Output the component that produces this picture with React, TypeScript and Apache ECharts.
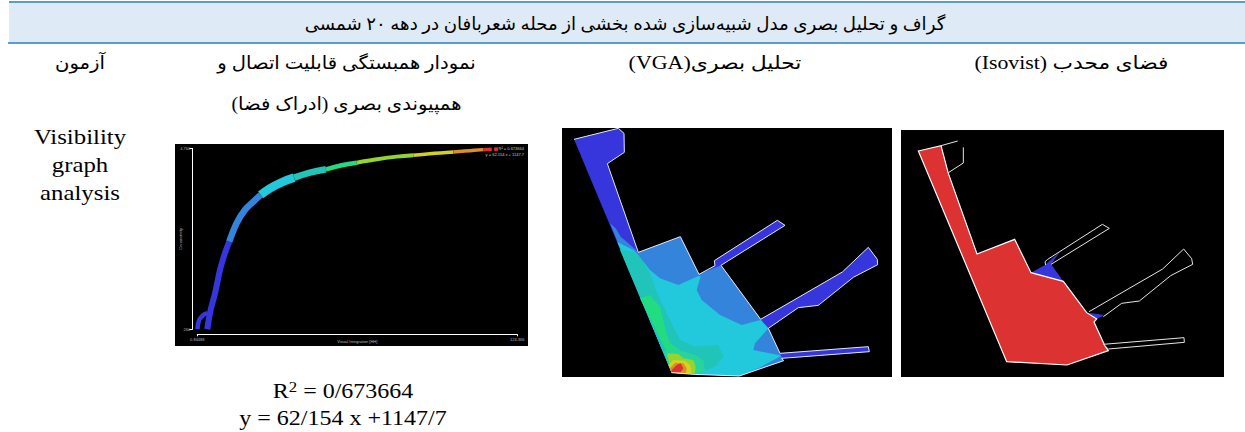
import React, { useEffect, useRef } from "react";
import * as echarts from "echarts";

const rtl = (s: string) => "\u202B" + s + "\u202C";
const titleText = "گراف و تحلیل بصری مدل شبیه‌سازی شده بخشی از محله شعربافان در دهه ۲۰ شمسی";
const headTest = "آزمون";
const headPlot1 = "نمودار همبستگی قابلیت اتصال و";
const headPlot2 = "همپیوندی بصری (ادراک فضا)";
const headVga = "تحلیل بصری(VGA)";
const headIso = "فضای محدب (Isovist)";
const rowLabel = ["Visibility", "graph", "analysis"];

// scatter bands: [integration, connectivity]
const forkBlue = [[0.85, 260], [1.6, 492], [3.2, 616], [4.7, 658]];
const darkBlue = [[4.7, 260], [6.0, 741], [7.7, 1155], [9.6, 1735], [11.5, 2149], [13.2, 2439]];
const midBlue = [[13.2, 2439], [16, 2895], [19.2, 3227], [22.5, 3434], [25.3, 3600]];
const cyanBand = [[25.3, 3600], [28.9, 3765], [33.4, 3915], [38.2, 4030]];
const tealBand = [[38.2, 4030], [44.3, 4155], [50.5, 4238]];
const greenBand = [[50.5, 4238], [56.6, 4337], [62.4, 4403]];
const limeBand = [[62.4, 4403], [70.1, 4486], [77.8, 4553], [84.2, 4586]];
const yellowBand = [[84.2, 4586], [90.6, 4627], [99.7, 4669]];
const orangeBand = [[99.7, 4669], [106.1, 4702], [111.2, 4727]];
const redBand = [[111.2, 4727], [114.5, 4735]];
const redEnd = [[115.4, 4735], [116.9, 4743]];
const xTicks = [0.84488, 124.366];
const yTicks = [260, 4760];

const DARK = "#3636dc", MID = "#3484db", CYAN = "#22c9dc", TEAL = "#20c4b8", GREEN = "#22dc82",
  HALO = "#28d49a", LIME = "#90d62e", YELLOW = "#d8d020", ORANGE = "#dd8c2e", RED = "#dc3232";

// VGA map regions
const vgaOutline = [[57, 58], [190, 25], [207, 40], [208, 97], [157, 131], [250, 397], [376, 350], [432, 463], [480, 437], [478, 422], [667, 301], [690, 316], [498, 436], [617, 598], [862, 456], [940, 382], [967, 418], [968, 434], [895, 472], [790, 556], [730, 563], [640, 625], [675, 700], [940, 680], [943, 695], [680, 715], [686, 722], [553, 768], [415, 763], [350, 758]];
const vgaMid = [[165, 310], [182, 325], [197, 350], [220, 370], [250, 397], [376, 350], [432, 463], [498, 436], [617, 598], [640, 625], [675, 700], [686, 722], [553, 768], [415, 763], [350, 758]];
const vgaCyan = [[187, 366], [235, 390], [245, 400], [285, 450], [315, 475], [370, 495], [425, 470], [437, 468], [425, 510], [440, 540], [495, 585], [560, 615], [617, 600], [640, 625], [600, 670], [595, 690], [670, 705], [678, 708], [610, 745], [553, 768], [415, 763], [350, 758]];
const vgaTeal = [[195, 390], [235, 395], [250, 405], [285, 460], [305, 515], [335, 580], [375, 660], [420, 680], [490, 675], [505, 710], [480, 740], [420, 762], [350, 758]];
const vgaGreen = [[255, 535], [285, 525], [315, 560], [335, 640], [345, 670], [375, 690], [335, 695]];
const vgaHalo = [[325, 692], [370, 690], [420, 705], [445, 720], [450, 755], [415, 763], [350, 758]];
const vgaLime = [[335, 700], [370, 702], [385, 715], [415, 720], [422, 740], [420, 760], [350, 758]];
const vgaYellow = [[340, 735], [355, 720], [390, 722], [405, 735], [410, 760], [350, 758]];
const vgaOrange = [[345, 745], [360, 728], [385, 730], [395, 745], [393, 758], [350, 758]];
const vgaRed = [[350, 750], [365, 735], [377, 730], [385, 745], [377, 757], [350, 757]];

// isovist map regions
const isoRed = [[70, 93], [138, 77], [160, 160], [246, 402], [359, 358], [408, 458], [505, 484], [575, 578], [605, 597], [597, 606], [630, 678], [640, 692], [516, 735], [335, 725]];
const isoBlueA = [[408, 458], [450, 435], [495, 395], [468, 433], [505, 484]];
const isoBlueB = [[580, 578], [628, 585], [605, 597]];
const isoEdgeA = [[138, 77], [188, 63]];
const isoEdgeB = [[205, 82], [205, 129], [160, 158]];
const isoEdgeC = [[452, 435], [450, 425], [458, 418], [622, 313], [643, 325], [468, 433]];
const isoEdgeD = [[582, 575], [803, 447], [866, 387], [890, 416], [893, 433], [827, 467], [733, 543], [680, 550], [625, 590]];
const isoEdgeE = [[625, 673], [867, 653], [868, 667], [640, 687], [630, 678]];

type Shape = { pts: number[][]; fill?: string; stroke?: string; width?: number };

const vgaShapes: Shape[] = [
  { pts: vgaOutline, fill: DARK },
  { pts: vgaMid, fill: MID },
  { pts: vgaCyan, fill: CYAN },
  { pts: vgaTeal, fill: TEAL },
  { pts: vgaGreen, fill: GREEN },
  { pts: vgaHalo, fill: HALO },
  { pts: vgaLime, fill: LIME },
  { pts: vgaYellow, fill: YELLOW },
  { pts: vgaOrange, fill: ORANGE },
  { pts: vgaRed, fill: RED },
  { pts: vgaOutline, stroke: "#dfe8ff", width: 1 },
];
const isoShapes: Shape[] = [
  { pts: isoBlueA, fill: DARK },
  { pts: isoBlueB, fill: DARK },
  { pts: isoRed, fill: RED, stroke: "#ffffff", width: 1.2 },
  { pts: isoEdgeA, stroke: "#e6e6e6", width: 1 },
  { pts: isoEdgeB, stroke: "#e6e6e6", width: 1 },
  { pts: isoEdgeC, stroke: "#e6e6e6", width: 1 },
  { pts: isoEdgeD, stroke: "#e6e6e6", width: 1 },
  { pts: isoEdgeE, stroke: "#e6e6e6", width: 1 },
];

const shapeSeries = (shapes: Shape[], axis: number) => ({
  type: "custom",
  coordinateSystem: "cartesian2d",
  xAxisIndex: axis,
  yAxisIndex: axis,
  silent: true,
  data: shapes.map((s) => s.pts[0]),
  renderItem: (params: any, api: any) => {
    const s = shapes[params.dataIndex];
    const points = s.pts.map((p) => api.coord(p));
    return {
      type: s.fill ? "polygon" : "polyline",
      shape: { points },
      style: { fill: s.fill || "none", stroke: s.stroke || "none", lineWidth: s.width || 0 },
    };
  },
});

const band = (data: number[][], color: string, width: number) => ({
  type: "line",
  xAxisIndex: 0,
  yAxisIndex: 0,
  data,
  symbol: "none",
  silent: true,
  clip: false,
  smooth: 0.4,
  lineStyle: { color, width, cap: "butt" },
});

const hiddenAxis = (gridIndex: number, min: number, max: number, inverse = false) => ({
  type: "value",
  gridIndex,
  min,
  max,
  inverse,
  show: false,
});

const text = (t: any, x: number, y: number, size: number, scaleX = 1, extra: any = {}) => ({
  type: "text",
  x,
  y,
  scaleX,
  z: 5,
  style: {
    text: t,
    fill: "#000000",
    font: `${size}px "Liberation Serif", "DejaVu Sans", serif`,
    textAlign: "center",
    textVerticalAlign: "middle",
    ...extra,
  },
});

export default function App() {
  const ref = useRef<HTMLDivElement>(null);
  useEffect(() => {
    document.body.style.margin = "0";
    const chart = echarts.init(ref.current!, undefined, { renderer: "svg" });
    const axisLine = { show: true, lineStyle: { color: "#ffffff", width: 1 } };
    const smallLabel = { color: "#b8b8b8", fontSize: 4, fontFamily: "Liberation Sans" };
    chart.setOption({
      animation: false,
      backgroundColor: "#ffffff",
      grid: [
        { left: 197.3, top: 148.3, width: 320, height: 181, containLabel: false },
        { left: 562, top: 128, width: 330, height: 249 },
        { left: 901, top: 130, width: 323, height: 247 },
      ],
      xAxis: [
        {
          type: "value",
          gridIndex: 0,
          min: xTicks[0],
          max: xTicks[1],
          offset: 5,
          position: "bottom",
          name: "Visual Integration [HH]",
          nameLocation: "middle",
          nameGap: 5,
          nameMoveOverlap: false,
          nameTextStyle: smallLabel,
          axisLine,
          axisTick: { show: true, customValues: xTicks, length: 2, lineStyle: { color: "#ffffff" } },
          axisLabel: { show: true, customValues: xTicks, ...smallLabel, margin: 3, formatter: (v: number) => String(v) },
          splitLine: { show: false },
        },
        hiddenAxis(1, 21, 1011),
        hiddenAxis(2, 18, 987),
      ],
      yAxis: [
        {
          type: "value",
          gridIndex: 0,
          min: yTicks[0],
          max: yTicks[1],
          offset: 5,
          position: "left",
          name: "Connectivity",
          nameLocation: "middle",
          nameGap: 10,
          nameMoveOverlap: false,
          nameRotate: 90,
          nameTextStyle: smallLabel,
          axisLine,
          axisTick: { show: true, customValues: yTicks, length: 3, lineStyle: { color: "#ffffff" } },
          axisLabel: { show: true, customValues: yTicks, ...smallLabel, margin: 2 },
          splitLine: { show: false },
        },
        hiddenAxis(1, 24, 771, true),
        hiddenAxis(2, 30, 771, true),
      ],
      series: [
        band(forkBlue, DARK, 4.5),
        band(darkBlue, DARK, 6),
        band(midBlue, MID, 6.5),
        band(cyanBand, CYAN, 8.5),
        band(tealBand, TEAL, 6.5),
        band(greenBand, GREEN, 4.5),
        band(limeBand, LIME, 4),
        band(yellowBand, YELLOW, 3.5),
        band(orangeBand, ORANGE, 3.5),
        band(redBand, RED, 3.5),
        band(redEnd, RED, 3.5),
        shapeSeries(vgaShapes, 1),
        shapeSeries(isoShapes, 2),
      ],
      graphic: [
        { type: "rect", z: -1, shape: { x: 9, y: 2, width: 1236, height: 41 }, style: { fill: "#deeaf6" } },
        { type: "rect", z: -1, shape: { x: 9, y: 1, width: 1236, height: 2 }, style: { fill: "#5b9bd5" } },
        { type: "rect", z: -1, shape: { x: 8, y: 42, width: 1237, height: 2 }, style: { fill: "#5b9bd5" } },
        { type: "rect", z: -1, shape: { x: 175, y: 144, width: 353, height: 202 }, style: { fill: "#000000" } },
        { type: "rect", z: -1, shape: { x: 562, y: 128, width: 330, height: 249 }, style: { fill: "#000000" } },
        { type: "rect", z: -1, shape: { x: 901, y: 130, width: 323, height: 247 }, style: { fill: "#000000" } },
        text(rtl(titleText), 625, 24, 18, 1.01),
        text(rtl(headTest), 80, 63, 18, 1.09),
        text(rtl(headPlot1), 346.5, 63, 18, 1.09),
        text(rtl(headPlot2), 346.5, 104, 18, 1.09),
        text(rtl(headVga), 715, 63, 18, 1.22),
        text(rtl(headIso), 1071.5, 63, 18, 1.21),
        text(rowLabel[0], 80, 137, 20, 1.24),
        text(rowLabel[1], 80, 165, 20, 1.24),
        text(rowLabel[2], 80, 193, 20, 1.24),
        {
          type: "text", x: 343, y: 391, z: 5, scaleX: 1.2,
          style: {
            text: "{b|R}{s|2}{b| = 0/673664}",
            textAlign: "center",
            textVerticalAlign: "middle",
            rich: {
              b: { font: '20px "Liberation Serif", serif', fill: "#000" },
              s: { font: '14px "Liberation Serif", serif', fill: "#000", verticalAlign: "top", lineHeight: 22 },
            },
          },
        },
        text("y = 62/154 x +1147/7", 343, 418.5, 20, 1.2),
        text("R² = 0.673664", 524, 148, 4, 1, { fill: "#c8c8c8", textAlign: "right", font: "4px Liberation Sans" }),
        text("y = 62.154 x + 1147.7", 524, 154, 4, 1, { fill: "#c8c8c8", textAlign: "right", font: "4px Liberation Sans" }),
      ],
    });
    return () => chart.dispose();
  }, []);
  return <div ref={ref} style={{ width: 1245, height: 432 }} />;
}
